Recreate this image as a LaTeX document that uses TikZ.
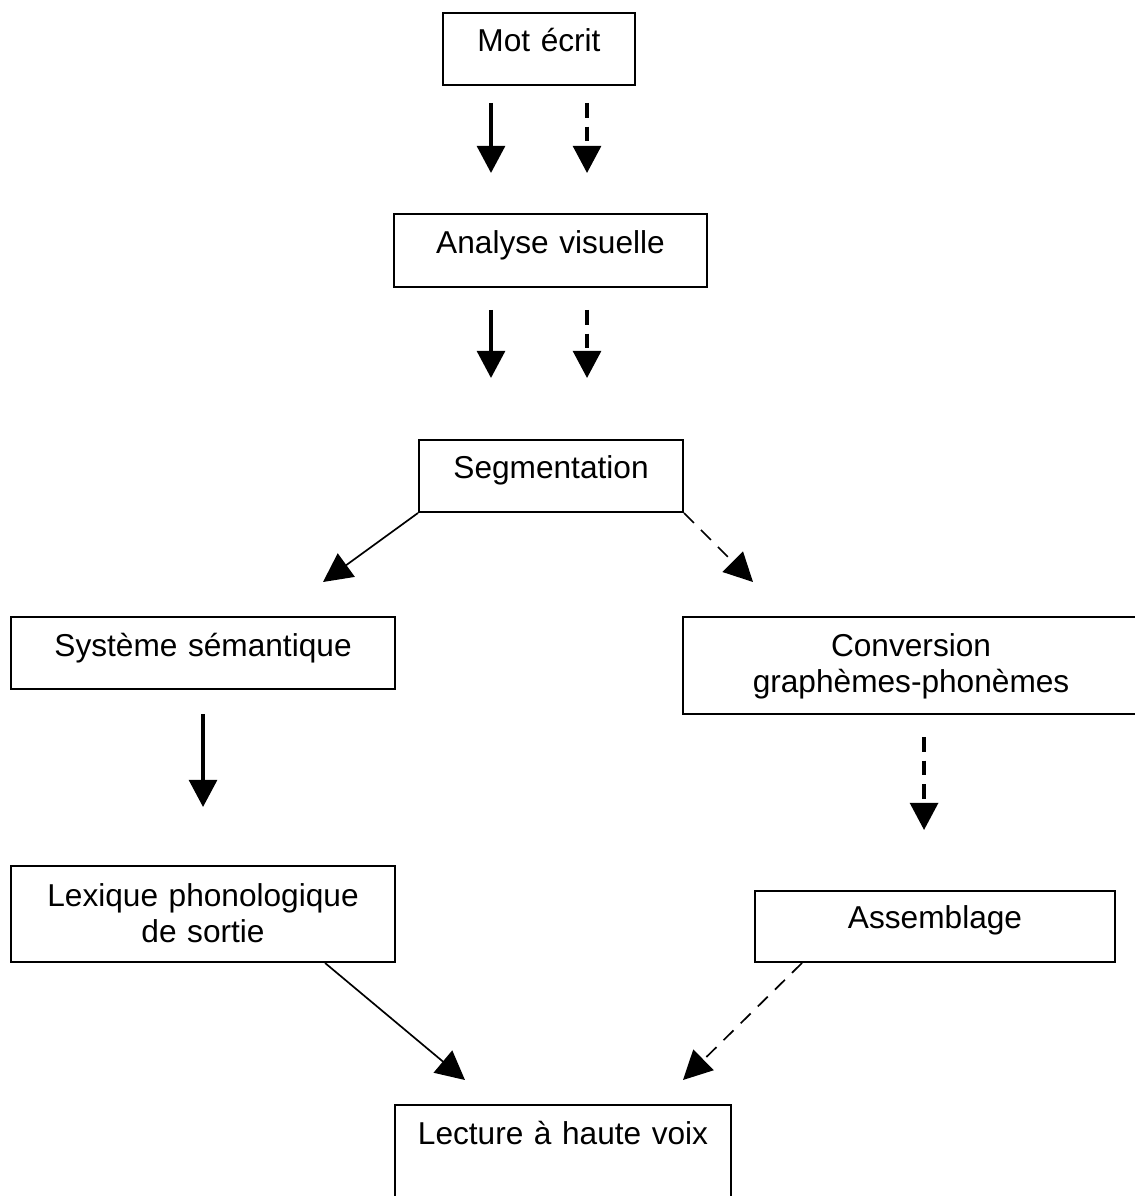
\documentclass[tikz,border=0pt]{standalone}
\usepackage{fontspec}
\setmainfont{Liberation Sans}
\usetikzlibrary{arrows.meta}

\begin{document}
\begin{tikzpicture}[x=0.025cm, y=-0.025cm,
    boite/.style={draw, line width=1.4pt, inner sep=0pt, align=center, anchor=north west,
        font=\fontsize{22.5}{26.3}\selectfont},
    fleche/.style={-{Triangle[length=0.68cm, width=0.7cm]}, line width=2.4pt},
    tirets/.style={dash pattern=on 0.37cm off 0.22cm},
    fine/.style={-{Triangle[length=0.72cm, width=0.72cm]}, line width=1.2pt},
    tiretsfins/.style={dash pattern=on 0.35cm off 0.25cm}]

    % page, cut at the right and at the bottom
    \path[use as bounding box] (0,0) rectangle (1135,1196);
    \clip (0,0) rectangle (1135,1196);

    % boxes
    \node[boite, text width=4.8cm, text height=0.975cm, text depth=0.825cm] (mot) at (442,12) {Mot écrit};
    \node[boite, text width=7.825cm, text height=1cm, text depth=0.825cm] (ana) at (393,213) {Analyse visuelle};
    \node[boite, text width=6.6cm, text height=0.975cm, text depth=0.825cm] (seg) at (418,439) {Segmentation};
    \node[boite, text width=9.6cm, text height=0.975cm, text depth=0.825cm] (sem) at (10,616) {Système sémantique};
    \node[boite, text width=11.4cm, text height=0.975cm, text depth=1.45cm] (conv) at (682,616) {Conversion\\graphèmes-phonèmes};
    \node[boite, text width=9.6cm, text height=1cm, text depth=1.4cm] (lex) at (10,865) {Lexique phonologique\\de sortie};
    \node[boite, text width=9cm, text height=0.925cm, text depth=0.85cm] (asm) at (754,890) {Assemblage};
    \node[boite, text width=8.4cm, text height=0.975cm, text depth=2.5cm] (lec) at (394,1104) {Lecture à haute voix};

    % two ways down to the segmentation
    \draw[fleche, shorten <=0.425cm, shorten >=1cm] ([xshift=-1.2cm]mot.south) -- ([xshift=-1.2cm]mot.south |- ana.north);
    \draw[fleche, tirets, shorten <=0.425cm, shorten >=1cm] ([xshift=1.2cm]mot.south) -- ([xshift=1.2cm]mot.south |- ana.north);
    \draw[fleche, shorten <=0.55cm, shorten >=1.525cm] ([xshift=-1.2cm]mot.south |- ana.south) -- ([xshift=-1.2cm]mot.south |- seg.north);
    \draw[fleche, tirets, shorten <=0.55cm, shorten >=1.525cm] ([xshift=1.2cm]mot.south |- ana.south) -- ([xshift=1.2cm]mot.south |- seg.north);

    % split
    \coordinate (pointe sem) at (323,582);
    \coordinate (pointe conv) at (753,582);
    \draw[fine] (seg.south west) -- (pointe sem);
    \draw[fine, tiretsfins] (seg.south east) -- (pointe conv);

    % left: lexical way
    \draw[fleche, shorten <=0.6cm, shorten >=1.45cm] (sem.south) -- (lex.north);
    % right: assembled way
    \draw[fleche, tirets, shorten <=0.55cm, shorten >=1.5cm] ([xshift=0.325cm]conv.south) -- ([xshift=0.325cm]conv.south |- asm.north);

    % both to the reading
    \coordinate (pointe lex) at (465,1080);
    \coordinate (pointe asm) at (683,1080);
    \draw[fine] ([xshift=-1.775cm]lex.south east) -- (pointe lex);
    \draw[fine, tiretsfins] ([xshift=1.2cm]asm.south west) -- (pointe asm);

\end{tikzpicture}
\end{document}
